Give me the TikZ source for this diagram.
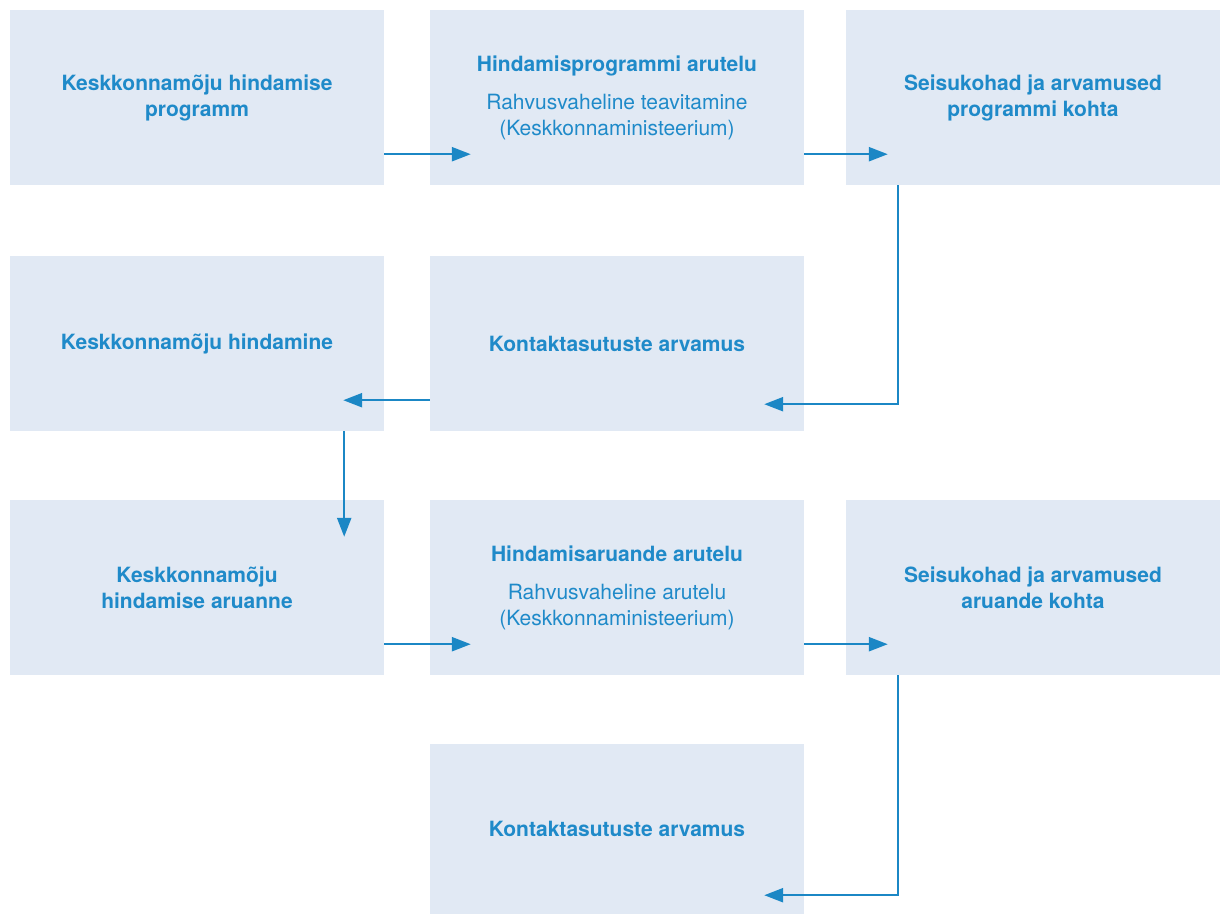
\documentclass[tikz,border=0pt]{standalone}
\usepackage{fontspec}
\setmainfont{TeX Gyre Heros}
\usetikzlibrary{arrows.meta,calc}
\definecolor{boxfill}{HTML}{E1E9F4}
\definecolor{txtblue}{HTML}{1F8AC9}
\definecolor{arrblue}{HTML}{1B87C5}
\begin{document}
\begin{tikzpicture}[x=1pt,y=-1pt,
  box/.style={fill=boxfill, minimum width=374pt, minimum height=175pt, inner sep=0pt,
    text=txtblue, align=center, font=\fontsize{21}{26}\selectfont},
  conn/.style={draw=arrblue, line width=2.4pt, -{Triangle[length=19pt,width=14pt]}}]
\useasboundingbox (0,0) rectangle (1220,914);
% row 1
\node[box] (A) at (197,97.5) {\textbf{Keskkonnamõju hindamise}\\\textbf{programm}};
\node[box] (B) at (617,97.5) {\textbf{Hindamisprogrammi arutelu}\\[12pt]Rahvusvaheline teavitamine\\(Keskkonnaministeerium)};
\node[box] (C) at (1033,97.5) {\textbf{Seisukohad ja arvamused}\\\textbf{programmi kohta}};
% row 2
\node[box] (D) at (197,343.5) {\textbf{Keskkonnamõju hindamine}};
\node[box] (E) at (617,343.5) {\textbf{Kontaktasutuste arvamus}};
% row 3
\node[box] (F) at (197,587.5) {\textbf{Keskkonnamõju}\\\textbf{hindamise aruanne}};
\node[box] (G) at (617,587.5) {\textbf{Hindamisaruande arutelu}\\[12pt]Rahvusvaheline arutelu\\(Keskkonnaministeerium)};
\node[box] (H) at (1033,587.5) {\textbf{Seisukohad ja arvamused}\\\textbf{aruande kohta}};
% row 4
\node[box, minimum height=170pt] (I) at (617,829) {\textbf{Kontaktasutuste arvamus}};
% connectors
\draw[conn] ($(A.south east)+(0,-31)$) -- ($(B.south west)+(41,-31)$);
\draw[conn] ($(B.south east)+(0,-31)$) -- ($(C.south west)+(42,-31)$);
\draw[conn] ($(C.south west)+(52,0)$) |- ($(E.south east)+(-40,-27)$);
\draw[conn] ($(E.south west)+(0,-31)$) -- ($(D.south east)+(-41,-31)$);
\draw[conn] ($(D.south east)+(-40,0)$) -- ($(F.north east)+(-40,37)$);
\draw[conn] ($(F.south east)+(0,-31)$) -- ($(G.south west)+(41,-31)$);
\draw[conn] ($(G.south east)+(0,-31)$) -- ($(H.south west)+(42,-31)$);
\draw[conn] ($(H.south west)+(52,0)$) |- ($(I.south east)+(-40,-19)$);
\end{tikzpicture}
\end{document}
